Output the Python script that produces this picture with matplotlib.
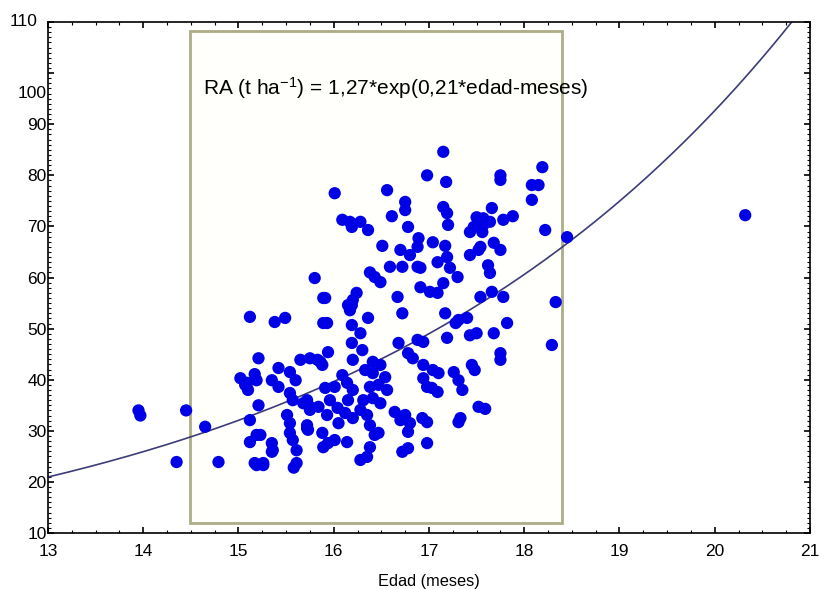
import numpy as np
import matplotlib.pyplot as plt
import matplotlib.transforms as mtransforms
from matplotlib.patches import Rectangle

plt.rcParams['font.family'] = ['Liberation Sans', 'DejaVu Sans']
plt.rcParams['mathtext.fontset'] = 'custom'
plt.rcParams['mathtext.rm'] = 'Liberation Sans'
plt.rcParams['mathtext.default'] = 'regular'

# Edad (meses) vs RA
edad = [
    13.95, 13.97, 14.45, 14.65, 14.35, 14.79, 15.12, 15.19, 15.12, 15.35,
    15.36, 15.19, 15.26, 15.21, 15.02, 15.09, 15.10, 15.19,
    15.12, 15.38, 15.49, 15.89, 15.21, 15.07, 15.17, 15.35, 15.42, 15.42,
    15.54, 15.60, 15.65, 15.75, 15.83, 15.54, 15.57, 15.68, 15.75, 15.51,
    15.54, 15.72, 15.73, 15.54, 15.57, 15.61, 15.61, 15.58, 15.23, 15.35,
    15.17, 15.26, 15.89, 15.88, 15.86, 15.72, 15.75, 15.84, 15.72,
    15.80, 15.89,
    17.15, 16.98, 17.18, 16.01, 16.56, 16.75, 16.75, 16.61, 17.15, 17.19,
    17.20, 16.09, 16.17, 16.19, 16.28, 16.36, 16.78, 16.51, 16.89, 17.04,
    16.70, 16.80, 16.88, 17.17, 17.09, 17.19, 16.59, 16.72, 16.88, 16.91,
    17.22, 16.38, 16.43, 16.49, 16.91, 17.01, 17.09, 17.15, 16.67, 16.24,
    16.20, 16.15, 15.91,
    18.19, 17.75, 17.75, 18.08, 18.15, 18.08, 17.66, 17.50, 17.57, 17.78,
    17.88, 17.47, 17.57, 17.64, 17.43, 17.56, 18.22, 18.45, 17.54, 17.68,
    17.75, 17.43, 17.52, 17.62, 17.64, 17.54, 17.66, 17.78, 18.33, 17.30,
    17.31, 17.40, 17.28, 17.82, 17.68, 17.43, 17.50, 18.29, 17.75, 17.75,
    17.45, 17.48, 17.26, 17.31, 17.35, 17.52, 17.59, 17.33, 17.31,
    16.19, 16.17, 16.72, 16.36, 15.93, 16.19, 16.28, 17.17, 17.19, 16.68,
    16.88, 16.94, 16.19, 16.30, 15.94, 16.78, 16.83, 16.20, 16.41, 16.49,
    16.94, 17.04, 17.10, 15.88, 16.09, 16.33, 16.41, 16.54, 16.94, 16.98,
    17.03, 17.09, 16.01, 16.14, 16.20, 16.38, 16.47, 16.56, 15.91, 15.96,
    16.15, 16.31, 16.41, 16.49, 16.04, 16.12, 16.28, 16.35, 16.64, 16.75,
    16.80, 16.93, 16.98, 16.70, 15.93, 16.05, 16.20, 16.38, 16.43, 16.47,
    16.78, 16.98, 15.94, 16.01, 16.14, 16.38, 16.35, 16.28, 16.72, 16.78,
    20.32,
]
ra = [
    34.0, 33.0, 34.0, 30.8, 23.9, 23.9, 32.1, 29.2, 27.8, 27.6,
    26.2, 23.3, 23.3, 35.0, 40.3, 39.4, 38.0, 39.9,
    52.3, 51.3, 52.1, 51.1, 44.2, 39.0, 41.1, 39.9, 42.3, 38.6,
    41.5, 39.9, 43.9, 44.2, 43.9, 37.4, 36.0, 35.4, 34.7, 33.1,
    31.5, 31.1, 30.2, 29.6, 28.2, 26.2, 23.7, 22.8, 29.2, 25.9,
    23.7, 23.7, 26.8, 29.6, 43.5, 36.0, 34.1, 34.7, 30.5,
    59.9, 56.0,
    84.6, 80.0, 78.7, 76.5, 77.1, 74.8, 73.2, 72.0, 73.8, 72.6,
    70.3, 71.3, 70.9, 69.9, 70.9, 69.3, 69.9, 66.2, 67.7, 66.9,
    65.4, 64.4, 66.0, 66.2, 63.0, 64.0, 62.1, 62.1, 62.1, 61.9,
    61.9, 61.0, 60.1, 59.1, 58.1, 57.2, 57.0, 58.9, 56.2, 57.0,
    55.6, 54.6, 56.0,
    81.6, 80.0, 79.1, 78.1, 78.1, 75.2, 73.6, 71.8, 71.6, 71.3,
    72.0, 69.9, 70.3, 70.9, 68.9, 68.9, 69.3, 67.9, 66.0, 66.8,
    65.4, 64.4, 65.4, 62.4, 60.9, 56.2, 57.2, 56.2, 55.2, 60.1,
    51.7, 52.1, 51.1, 51.1, 49.1, 48.7, 49.1, 46.8, 45.2, 43.9,
    42.9, 41.9, 41.5, 39.9, 38.0, 34.7, 34.3, 32.5, 31.7,
    54.6, 53.6, 53.0, 52.1, 51.1, 50.7, 49.1, 53.0, 48.2, 47.2,
    47.8, 47.4, 47.2, 45.8, 45.4, 45.2, 44.2, 43.9, 43.5, 42.9,
    42.9, 41.9, 41.3, 42.9, 40.9, 41.9, 41.3, 40.5, 40.3, 38.6,
    38.4, 37.6, 38.6, 39.4, 38.0, 38.6, 39.0, 38.0, 38.4, 36.0,
    36.0, 36.0, 36.4, 35.4, 34.5, 33.5, 34.1, 33.1, 33.7, 33.1,
    31.5, 32.5, 31.7, 32.1, 33.1, 31.5, 32.5, 31.1, 29.2, 29.6,
    29.8, 27.6, 27.6, 28.2, 27.8, 26.8, 24.9, 24.3, 25.9, 26.6,
    72.2,
]

# fitted exponential curve as drawn
fit_a = 1.327
fit_k = 0.2123

# highlighted box (edad range, RA range)
box_x = [14.49, 18.40]
box_y = [12.0, 108.2]

fig = plt.figure(figsize=(8.19, 5.89), dpi=100)
ax = fig.add_axes([0.0586, 0.095, 0.9304, 0.8676])

ax.add_patch(Rectangle((box_x[0], box_y[0]), box_x[1] - box_x[0], box_y[1] - box_y[0],
                       facecolor='#fffffc', edgecolor='#adad88', linewidth=2.0, zorder=1))

xc = np.linspace(13, 21, 300)
ax.plot(xc, fit_a * np.exp(fit_k * xc), color='#3c3c78', linewidth=1.2, zorder=2)

ax.scatter(edad, ra, s=78, color='#0000e6', edgecolors='none', zorder=3)

ax.text(14.63, 95.7, 'RA (t ha$^{-1}$) = 1,27*exp(0,21*edad-meses)',
        fontsize=15, va='baseline', ha='left', zorder=4)

ax.set_xlim(13, 21)
ax.set_ylim(10, 110)
ax.set_xticks(range(13, 22))
ax.set_yticks(range(10, 111, 10))
ax.set_xticks(np.arange(13, 21.01, 0.25), minor=True)
ax.set_yticks(np.arange(10, 110.01, 1), minor=True)
ax.tick_params(which='both', direction='in', top=True, right=True, labelsize=12.5)
ax.tick_params(which='major', length=4, width=1.2)
ax.tick_params(which='minor', length=2, width=0.8)
ax.tick_params(axis='y', pad=1)
ax.tick_params(axis='x', pad=8)

# odd placement of the 100 and 110 labels in the original
for lab in ax.get_yticklabels():
    if lab.get_text() == '100':
        lab.set_transform(lab.get_transform() + mtransforms.ScaledTranslation(0, -0.19, fig.dpi_scale_trans))
    if lab.get_text() == '110':
        lab.set_transform(lab.get_transform() + mtransforms.ScaledTranslation(-0.09, 0.02, fig.dpi_scale_trans))

for sp in ax.spines.values():
    sp.set_linewidth(1.2)

ax.set_xlabel('Edad (meses)', fontsize=11.8, labelpad=11)

fig.savefig('out.png', dpi=100)
